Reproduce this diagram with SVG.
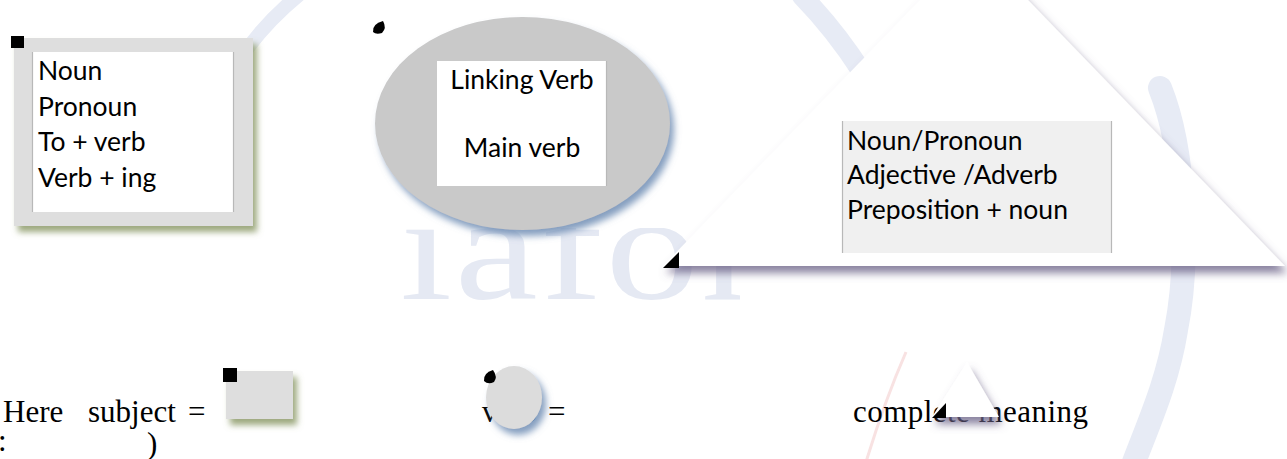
<svg xmlns="http://www.w3.org/2000/svg" width="1287" height="459" viewBox="0 0 1287 459">
<style>
.cal{font-family:Lato,"Open Sans","Noto Sans",sans-serif;font-size:26.5px;fill:#000}
.tnr{font-family:"Liberation Serif","Times New Roman",serif;font-size:31px;fill:#000}
.wm{fill:none;stroke:#e7ebf5;stroke-linecap:round}
.mark{fill:#000}
.edge{stroke:#b8b8b8;stroke-width:1.2}
</style>
<defs>
<filter id="shGreen" x="-20%" y="-20%" width="150%" height="150%">
<feGaussianBlur in="SourceAlpha" stdDeviation="3"/>
<feOffset dx="4" dy="6" result="b"/>
<feFlood flood-color="#8c9a68" flood-opacity="0.85"/>
<feComposite in2="b" operator="in"/>
<feMerge><feMergeNode/><feMergeNode in="SourceGraphic"/></feMerge>
</filter>
<filter id="shBlue" x="-20%" y="-20%" width="150%" height="150%">
<feGaussianBlur in="SourceAlpha" stdDeviation="3.5"/>
<feOffset dx="4" dy="6" result="b"/>
<feFlood flood-color="#6f8db4" flood-opacity="0.85"/>
<feComposite in2="b" operator="in"/>
<feMerge><feMergeNode/><feMergeNode in="SourceGraphic"/></feMerge>
</filter>
<filter id="shPurple" x="-20%" y="-20%" width="150%" height="150%">
<feGaussianBlur in="SourceAlpha" stdDeviation="4"/>
<feOffset dx="3" dy="7" result="b"/>
<feFlood flood-color="#6c6388" flood-opacity="0.8"/>
<feComposite in2="b" operator="in"/>
<feMerge><feMergeNode/><feMergeNode in="SourceGraphic"/></feMerge>
</filter>
<clipPath id="wmClip"><rect x="380" y="228" width="360" height="90"/></clipPath>
</defs>

<g id="watermark">
<path class="wm" d="M238 62 Q262 25 300 -6" stroke-width="14"/>
<path class="wm" d="M802 -4 Q835 30 862 72" stroke-width="20"/>
<path class="wm" d="M1160 88 C1185 150 1190 260 1176 330 C1168 380 1150 420 1134 462" stroke-width="24"/>
<path d="M906 352 Q885 400 866 462" fill="none" stroke="#f8e2e2" stroke-width="3"/>
<g clip-path="url(#wmClip)">
<text transform="scale(1.25 1)" x="320" y="299" font-family="'Liberation Serif',serif" font-size="150" fill="#e5e9f3" letter-spacing="2">iafor</text>
</g>
</g>

<g id="node-left-box">
<rect x="14" y="38" width="239" height="188" fill="#dedede" filter="url(#shGreen)"/>
<rect x="32" y="52" width="202" height="160" fill="#ffffff"/>
<line class="edge" x1="32.5" y1="52" x2="32.5" y2="212"/>
<line class="edge" x1="233.5" y1="52" x2="233.5" y2="212"/>
<rect class="mark" x="11" y="36" width="13" height="12"/>
<text class="cal" x="38" y="80">Noun</text>
<text class="cal" x="38" y="116">Pronoun</text>
<text class="cal" x="38" y="151">To + verb</text>
<text class="cal" x="38" y="187">Verb + ing</text>
</g>

<g id="node-ellipse">
<ellipse cx="522.5" cy="123.5" rx="147.5" ry="106.5" fill="#c9c9c9" filter="url(#shBlue)"/>
<rect x="437" y="61" width="170" height="125" fill="#ffffff"/>
<line class="edge" x1="606.5" y1="61" x2="606.5" y2="186"/>
<path class="mark" d="M373 32 Q372 24 383 21 Q387 28 382 33 Q376 35 373 32 Z"/>
<text class="cal" x="522" y="89" text-anchor="middle">Linking Verb</text>
<text class="cal" x="522" y="157" text-anchor="middle">Main verb</text>
</g>

<g id="node-triangle">
<polygon points="974,-56 663,266 1285,266" fill="#ffffff" filter="url(#shPurple)"/>
<rect x="842" y="121" width="270" height="132" fill="#f0f0f0"/>
<line class="edge" x1="842.5" y1="121" x2="842.5" y2="253"/>
<line class="edge" x1="1111.5" y1="121" x2="1111.5" y2="253"/>
<polygon class="mark" points="663,268 679,252 679,268"/>
<text class="cal" x="847" y="150">Noun/Pronoun</text>
<text class="cal" x="847" y="184">Adjective /Adverb</text>
<text class="cal" x="847" y="219">Preposition + noun</text>
</g>

<g id="sentence">
<text class="tnr" x="-2" y="451" font-size="16">:</text>
<text class="tnr" x="3" y="422">Here</text>
<text class="tnr" x="88" y="422">subject</text>
<text class="tnr" x="188" y="422">=</text>
<text class="tnr" x="147" y="454">)</text>
<text class="tnr" x="482" y="422">verb</text>
<text class="tnr" x="548" y="422">=</text>
<text class="tnr" x="853" y="422" textLength="235" lengthAdjust="spacing">complete meaning</text>
</g>

<g id="node-small-rect">
<rect x="226" y="371" width="67" height="48" fill="#dedede" filter="url(#shGreen)"/>
<rect class="mark" x="223" y="368" width="14" height="14"/>
</g>

<g id="node-small-ellipse">
<ellipse cx="514" cy="397.5" rx="28" ry="31.5" fill="#dcdcdc" filter="url(#shBlue)"/>
<path class="mark" d="M484 381 Q483 373 493 370 Q498 377 494 382 Q488 385 484 381 Z"/>
</g>

<g id="node-small-triangle">
<polygon points="967,362 932,417 999,417" fill="#ffffff" filter="url(#shPurple)"/>
<polygon class="mark" points="932,418 946,403 946,418"/>
</g>

<g id="connectors"/>
</svg>
